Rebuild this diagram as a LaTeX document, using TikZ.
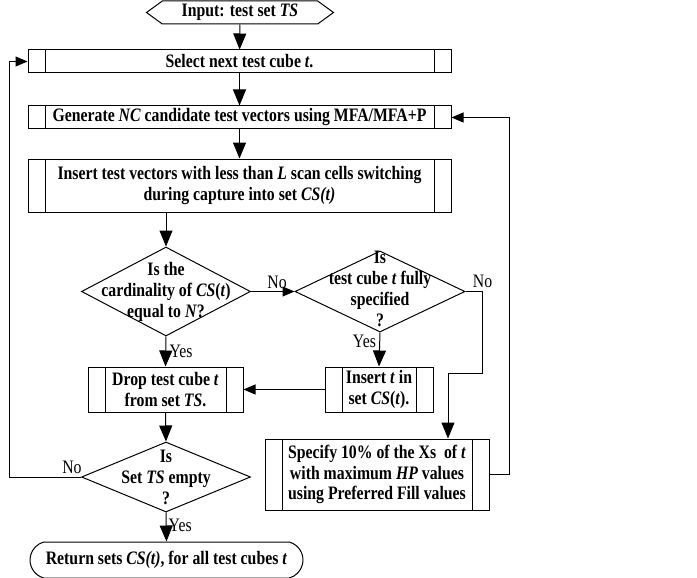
\documentclass[tikz,border=0pt]{standalone}
\usepackage{fontspec}
\setmainfont{Liberation Serif}[FakeStretch=0.83]
\usetikzlibrary{arrows.meta,shapes.geometric,shapes.symbols,shapes.misc}

\begin{document}
\begin{tikzpicture}[x=1pt,y=-1pt,line width=1pt,
    every node/.style={font=\fontsize{19}{20.5}\selectfont},
    proc/.style={draw,rectangle,inner sep=0pt,align=center,
      font=\fontsize{19}{20.5}\selectfont\bfseries,
      path picture={
        \draw ([xshift=17pt]path picture bounding box.north west) --
              ([xshift=17pt]path picture bounding box.south west);
        \draw ([xshift=-17pt]path picture bounding box.north east) --
              ([xshift=-17pt]path picture bounding box.south east);}},
    dec/.style={draw,diamond,inner sep=0pt},
    dectext/.style={align=center,font=\fontsize{19}{21}\selectfont\bfseries},
    vflow/.style={-{Triangle[length=16pt,width=13pt]}},
    hflow/.style={-{Triangle[length=12pt,width=10pt]}}]

  \useasboundingbox (0,0) rectangle (697,578);

  % Start node
  \node[draw,signal,signal to=west and east,signal pointer angle=72,
        minimum width=187pt,minimum height=23pt,inner sep=0pt,
        font=\fontsize{19}{20.5}\selectfont\bfseries]
    (input) at (240,12.5) {Input: test set \textit{TS}};

  % Process boxes (top)
  \node[proc,minimum width=423pt,minimum height=23pt] (select) at (239.5,61.5)
    {Select next test cube \textit{t}.};
  \node[proc,minimum width=423pt,minimum height=23pt] (generate) at (239.5,117.5)
    {Generate \textit{NC} candidate test vectors using MFA/MFA+P};
  \node[proc,minimum width=423pt,minimum height=53pt] (insert) at (239.5,185.5)
    {Insert test vectors with less than \textit{L} scan cells switching\\
     during capture into set \textit{CS(t)}};

  % Decisions
  \node[dec,minimum width=169pt,minimum height=89pt] (card) at (166,291.5) {};
  \node[dectext] at (166,292)
    {Is the\\cardinality of \textit{CS}(\textit{t})\\equal to \textit{N}?};
  \node[dec,minimum width=170pt,minimum height=81pt] (full) at (380,291.5) {};
  \node[dectext] at (380,289)
    {Is\\test cube \textit{t} fully\\specified\\?};
  \node[dec,minimum width=169pt,minimum height=70pt] (empty) at (166,477) {};
  \node[dectext] at (166,477)
    {Is\\Set \textit{TS} empty\\?};

  % Process boxes (bottom)
  \node[proc,minimum width=155pt,minimum height=45pt] (drop) at (165.5,389.5)
    {Drop test cube \textit{t}\\from set \textit{TS}.};
  \node[proc,minimum width=108pt,minimum height=45pt] (insertt) at (379,389.5)
    {Insert \textit{t} in\\set \textit{CS}(\textit{t}).};
  \node[proc,minimum width=224pt,minimum height=71pt] (specify) at (377,474.5)
    {Specify 10\% of the Xs~ of \textit{t}\\with maximum \textit{HP} values\\
     using Preferred Fill values};

  % End node
  \node[draw,rounded rectangle,rounded rectangle arc length=150,
        minimum width=273pt,minimum height=36pt,inner sep=0pt,
        font=\fontsize{19}{20.5}\selectfont\bfseries]
    (return) at (166.5,560)
    {Return sets \textit{CS(t)}, for all test cubes \textit{t}};

  % Main flow
  \draw[vflow] (input) -- (select);
  \draw[vflow] (select) -- (generate);
  \draw[vflow] (generate) -- (insert);
  \draw[vflow] (insert.south -| card.north) -- (card.north);
  \draw[hflow] (card.east) -- node[pos=0.6,above,inner sep=2pt]{No} (full.west);
  \draw[vflow] (card.south) -- node[right]{Yes} (drop.north);
  \draw[vflow] (full.south) -- node[pos=0.25,left]{Yes} (insertt.north);
  \draw[hflow] (insertt.west) -- (drop.east);
  \draw[vflow] (drop.south) -- (empty.north);
  \draw[vflow] (empty.south) -- node[pos=0.45,right,inner sep=2pt]{Yes} (return.north);

  % Not fully specified
  \coordinate (bend) at (448,373);
  \draw[vflow] (full.east) -- ++(17,0) node[above,inner sep=3pt]{No}
    |- (bend) -- (bend |- specify.north);

  % Loops back
  \draw[hflow] (specify.east) -- ++(20,0) |- (generate.east);
  \draw[hflow] (empty.west) -- node[pos=0.125,above,inner sep=3pt]{No} ++(-72,0)
    |- (select.west);

\end{tikzpicture}
\end{document}
